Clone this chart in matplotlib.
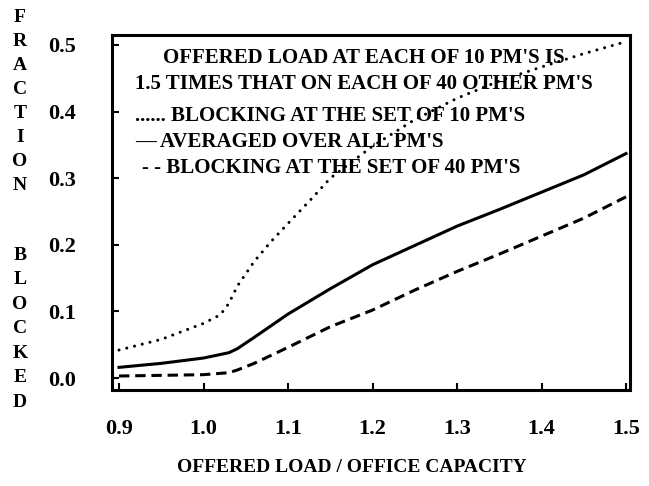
import matplotlib
matplotlib.use("Agg")
import matplotlib.pyplot as plt

# offered load / office capacity
load_dot = [0.9, 0.95, 1.0, 1.02, 1.03, 1.04, 1.06, 1.08, 1.1, 1.13, 1.15,
            1.2, 1.25, 1.3, 1.35, 1.4, 1.45, 1.5]
block_10 = [0.042, 0.058, 0.082, 0.095, 0.112, 0.138, 0.175, 0.205, 0.232, 0.272, 0.3,
            0.348, 0.388, 0.42, 0.446, 0.467, 0.487, 0.505]

load = [0.9, 0.95, 1.0, 1.03, 1.04, 1.06, 1.1, 1.15, 1.2, 1.25, 1.3, 1.35, 1.4, 1.45, 1.5]
block_avg = [0.016, 0.022, 0.030, 0.038, 0.044, 0.061, 0.096, 0.134, 0.17, 0.199,
             0.228, 0.253, 0.279, 0.305, 0.337]
block_40 = [0.003, 0.004, 0.005, 0.008, 0.012, 0.022, 0.046, 0.077, 0.102, 0.132,
            0.16, 0.186, 0.213, 0.24, 0.272]

xticks = [0.9, 1.0, 1.1, 1.2, 1.3, 1.4, 1.5]
yticks = [0.0, 0.1, 0.2, 0.3, 0.4, 0.5]

title_lines = [
    "OFFERED LOAD AT EACH OF 10 PM'S IS",
    "1.5 TIMES THAT ON EACH OF 40 OTHER PM'S",
]
key_lines = [
    "...... BLOCKING AT THE SET OF 10 PM'S",
    "\u2014 AVERAGED OVER ALL PM'S",
    "- - BLOCKING AT THE SET OF 40 PM'S",
]

FONT = dict(family="Liberation Serif", weight="bold")

fig = plt.figure(figsize=(6.49, 4.86), dpi=100)
ax = fig.add_axes([112 / 649, 1 - 390 / 486, (630 - 112) / 649, (390 - 35) / 486])

ax.plot(load_dot, block_10, color="black", lw=2.2, linestyle=(0, (0.01, 2.6)),
        dash_capstyle="round")
ax.plot(load, block_avg, color="black", lw=2.2)
ax.plot(load, block_40, color="black", lw=2.2, linestyle=(0, (3.4, 1.9)))

ax.set_xlim(0.8917, 1.5047)
ax.set_ylim(-0.018, 0.515)
ax.set_xticks(xticks, [f"{v:.1f}" for v in xticks], fontsize=16, **FONT)
ax.set_yticks(yticks, [f"{v:.1f}" for v in yticks], fontsize=16, **FONT)
ax.tick_params(axis="x", direction="in", length=5, width=1.5, pad=21)
ax.tick_params(axis="y", direction="in", length=5, width=1.5, pad=26)
for s in ax.spines.values():
    s.set_linewidth(2.2)

# legend block is plain text in the original
ax.text(1.190, 0.480, title_lines[0], ha="center", va="center", fontsize=15, **FONT)
ax.text(1.190, 0.441, title_lines[1], ha="center", va="center", fontsize=15, **FONT)
ax.text(0.919, 0.393, key_lines[0], ha="left", va="center", fontsize=15, **FONT)
ax.text(0.919, 0.355, key_lines[1], ha="left", va="center", fontsize=15, **FONT)
ax.text(0.927, 0.315, key_lines[2], ha="left", va="center", fontsize=15, **FONT)

fig.text(352 / 649, 1 - 467 / 486, "OFFERED LOAD / OFFICE CAPACITY",
         ha="center", va="center", fontsize=14, **FONT)

# vertical stacked y label
ylab_top = "FRACTION"
ylab_bot = "BLOCKED"
for i, ch in enumerate(ylab_top):
    fig.text(20 / 649, 1 - (17 + 24 * i) / 486, ch, ha="center", va="center",
             fontsize=14, **FONT)
for i, ch in enumerate(ylab_bot):
    fig.text(20 / 649, 1 - (255 + 24.5 * i) / 486, ch, ha="center", va="center",
             fontsize=14, **FONT)

fig.savefig("out.png", dpi=100)
